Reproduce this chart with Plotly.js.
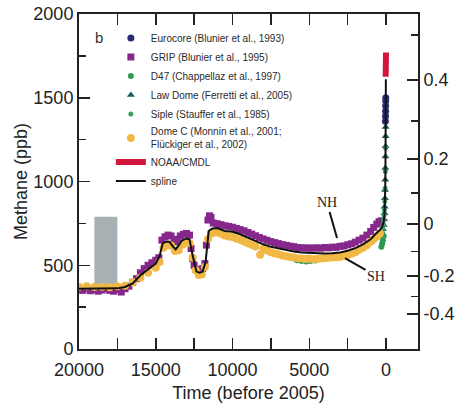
<!DOCTYPE html>
<html>
<head>
<meta charset="utf-8">
<script src="https://cdn.plot.ly/plotly-3.0.1.min.js"></script>
<style>html,body{margin:0;padding:0;background:#fff;}#chart{width:462px;height:403px;}</style>
</head>
<body>
<div id="chart"></div>
<script>
// ---- data (years before 2005, methane ppb) ----
const splineYears = [20000,19500,19000,18500,18000,17500,17000,16500,16000,15500,15000,14750,14550,14300,14100,13900,13700,13500,13300,13000,12800,12650,12500,12350,12150,11950,11750,11650,11550,11300,11000,10500,10000,9500,9000,8500,8000,7500,7000,6500,6000,5500,5000,4500,4000,3500,3000,2500,2000,1500,1000,700,400,250,150,100,70,50,35,25,18,12,8];
const splineCH4  = [360,360,358,358,360,362,370,392,440,475,510,555,630,642,640,615,595,620,648,660,655,580,510,462,455,462,520,640,705,720,722,705,700,685,665,645,625,610,600,590,582,576,573,571,570,571,576,587,602,625,655,685,710,730,760,800,860,950,1080,1230,1400,1530,1610];

const gripYears = [20000,19750,19500,19250,19000,18750,18500,18250,18000,17750,17500,17250,17000,16750,16500,16250,16000,15750,15500,15250,15000,14800,14600,14400,14200,14000,13800,13600,13400,13200,13000,12800,12700,12600,12500,12400,12250,12100,11950,11800,11700,11600,11500,11400,11250,11000,10750,10500,10250,10000,9750,9500,9250,9000,8750,8500,8250,8000,7750,7500,7250,7000,6750,6500,6250,6000,5750,5500,5250,5000,4750,4500,4250,4000,3750,3500,3250,3000,2750,2500,2250,2000,1750,1500,1250,1000,800,600,450,300];
const gripCH4  = [355,350,362,348,355,345,352,360,350,345,355,340,360,375,398,420,455,480,500,515,530,545,650,670,680,675,655,640,675,685,690,680,600,540,500,475,470,465,480,510,620,770,795,785,752,748,742,736,732,727,720,713,706,696,686,676,666,657,649,641,635,629,623,619,614,611,606,604,603,603,602,604,602,606,604,608,607,613,615,622,628,638,650,662,680,702,726,746,760,765];

const domeCYears = [20000,19500,19000,18500,18000,17500,17000,16500,16000,15500,15000,14750,14500,14250,14000,13750,13500,13250,13000,12800,12600,12400,12200,12000,11800,11600,11400,11200,11000,10750,10500,10250,10000,9750,9500,9250,9000,8750,8500,8200,8000,7750,7500,7250,7000,6750,6500,6250,6000,5750,5500,5250,5000,4750,4500,4250,4000,3750,3500,3250,3000,2750,2500,2250,2000,1750,1500,1250,1000,800,600,400];
const domeCCH4  = [372,375,370,372,368,374,378,398,425,455,485,520,605,620,618,585,590,622,638,632,545,470,442,445,490,655,688,695,695,688,678,672,668,660,652,642,632,622,612,562,598,588,578,570,566,558,553,549,546,542,540,538,540,536,538,540,542,545,546,548,550,556,561,568,578,592,605,620,640,656,672,690];

const d47Years = [5800,5500,5200,4900,4600,300,250,200,150];
const d47CH4   = [530,525,522,525,529,610,630,650,675];

const lawDomeYears = [1000,800,600,400,300,200,150,120,100,85,70,60,50,42,35,30,25,20];
const lawDomeCH4   = [640,655,668,685,700,715,740,775,810,850,900,950,1010,1080,1150,1210,1270,1325];

const sipleYears = [260,220,180,150,120,100,80,60,45,30];
const sipleCH4   = [700,720,745,770,800,830,880,960,1060,1200];

const eurocoreYears = [40,32,26,22,18,14];
const eurocoreCH4   = [1360,1390,1420,1450,1480,1500];

const noaaYears = [22,18,14,10,6,2,0];
const noaaCH4   = [1625,1660,1700,1730,1750,1765,1770];

const grayBoxYears = [19000,17500];
const grayBoxPpb   = [375,790];

const xTicks = [20000,15000,10000,5000,0];
const xMinor = [17500,12500,7500,2500];
const yTicks = [0,500,1000,1500,2000];
const yMinor = [250,750,1250,1750];
const forcingLabels = ['-0.4','-0.2','0','0.2','0.4'];
const forcingTickPpb = [209,436,746,1134,1606];
const forcingMinorPpb = [314,581,931,1362,1876];

// ---- traces ----
const font = 'Arial, "Liberation Sans", Helvetica, sans-serif';
const serif = '"Liberation Serif", "Times New Roman", serif';
const traces = [
  {x:[grayBoxYears[0],grayBoxYears[1],grayBoxYears[1],grayBoxYears[0]],
   y:[grayBoxPpb[0],grayBoxPpb[0],grayBoxPpb[1],grayBoxPpb[1]],
   mode:'lines', fill:'toself', fillcolor:'#a9b0b4', line:{width:0,color:'#a9b0b4'},
   showlegend:false, hoverinfo:'skip'},
  {name:'Eurocore (Blunier et al., 1993)', x:eurocoreYears, y:eurocoreCH4, mode:'markers',
   marker:{symbol:'circle', size:7, color:'#2c2a78'}},
  {name:'GRIP (Blunier et al., 1995)', x:gripYears, y:gripCH4, mode:'markers',
   marker:{symbol:'square', size:7, color:'#86278c'}},
  {name:'D47 (Chappellaz et al., 1997)', x:d47Years, y:d47CH4, mode:'markers',
   marker:{symbol:'circle', size:6, color:'#2e9a55'}},
  {name:'Law Dome (Ferretti et al., 2005)', x:lawDomeYears, y:lawDomeCH4, mode:'markers',
   marker:{symbol:'triangle-up', size:7, color:'#1d5a58'}},
  {name:'Siple (Stauffer et al., 1985)', x:sipleYears, y:sipleCH4, mode:'markers',
   marker:{symbol:'circle', size:5, color:'#3aa062'}},
  {name:'Dome C (Monnin et al., 2001;<br>Flückiger et al., 2002)', x:domeCYears, y:domeCCH4, mode:'markers',
   marker:{symbol:'circle', size:8, color:'#f2b845'}},
  {name:'NOAA/CMDL', x:noaaYears, y:noaaCH4, mode:'lines', yaxis:'y2',
   line:{color:'#d3163e', width:6}},
  {name:'spline', x:splineYears, y:splineCH4, mode:'lines',
   line:{color:'#111111', width:2}}
];

const axisCommon = {
  ticks:'inside', ticklen:11, tickwidth:1.5, tickcolor:'#222',
  showline:true, linewidth:2, linecolor:'#222',
  showgrid:false, zeroline:false,
  tickfont:{family:font, size:18, color:'#222'}
};

const layout = {
  width:462, height:403,
  margin:{l:79, r:44, t:14, b:54, pad:0},
  paper_bgcolor:'#fff', plot_bgcolor:'#fff',
  showlegend:true,
  legend:{x:0.094, y:0.9716, xanchor:'left', yanchor:'top', bgcolor:'rgba(0,0,0,0)',
          borderwidth:0, tracegroupgap:0, itemsizing:'trace',
          font:{family:font, size:10, color:'#2a2a2a'}},
  xaxis:Object.assign({}, axisCommon, {
    range:[20000,-2085], tickmode:'array', tickvals:xTicks, ticktext:xTicks.map(String),
    mirror:'allticks', ticklabelstandoff:3,
    minor:{tickmode:'array', tickvals:xMinor, ticks:'inside', ticklen:7, tickwidth:1.5, tickcolor:'#222', showgrid:false},
    title:{text:'Time (before 2005)', font:{family:font, size:18, color:'#222'}}
  }),
  yaxis:Object.assign({}, axisCommon, {
    range:[0,2000], tickmode:'array', tickvals:yTicks, ticktext:yTicks.map(String),
    minor:{tickmode:'array', tickvals:yMinor, ticks:'inside', ticklen:7, tickwidth:1.5, tickcolor:'#222', showgrid:false},
    title:{text:'Methane (ppb)', font:{family:font, size:18, color:'#222'}}
  }),
  yaxis2:Object.assign({}, axisCommon, {
    overlaying:'y', side:'right', anchor:'x',
    range:[0,2000], tickmode:'array', tickvals:forcingTickPpb, ticktext:forcingLabels,
    minor:{tickmode:'array', tickvals:forcingMinorPpb, ticks:'inside', ticklen:7, tickwidth:1.5, tickcolor:'#222', showgrid:false}
  }),
  annotations:[
    {xref:'paper', yref:'paper', x:0.058, y:0.93, xanchor:'center', yanchor:'middle', text:'b', showarrow:false,
     font:{family:font, size:15, color:'#333'}},
    {x:3190, y:663, xref:'x', yref:'y', text:'NH', showarrow:true, arrowhead:0, arrowwidth:2,
     arrowcolor:'#111', ax:-10, ay:-35, font:{family:serif, size:14, color:'#222'}},
    {x:2670, y:543, xref:'x', yref:'y', text:'SH', showarrow:true, arrowhead:0, arrowwidth:2,
     arrowcolor:'#111', ax:31, ay:18, font:{family:serif, size:14, color:'#222'}}
  ]
};

Plotly.newPlot('chart', traces, layout, {staticPlot:true, displayModeBar:false});
</script>
</body>
</html>
